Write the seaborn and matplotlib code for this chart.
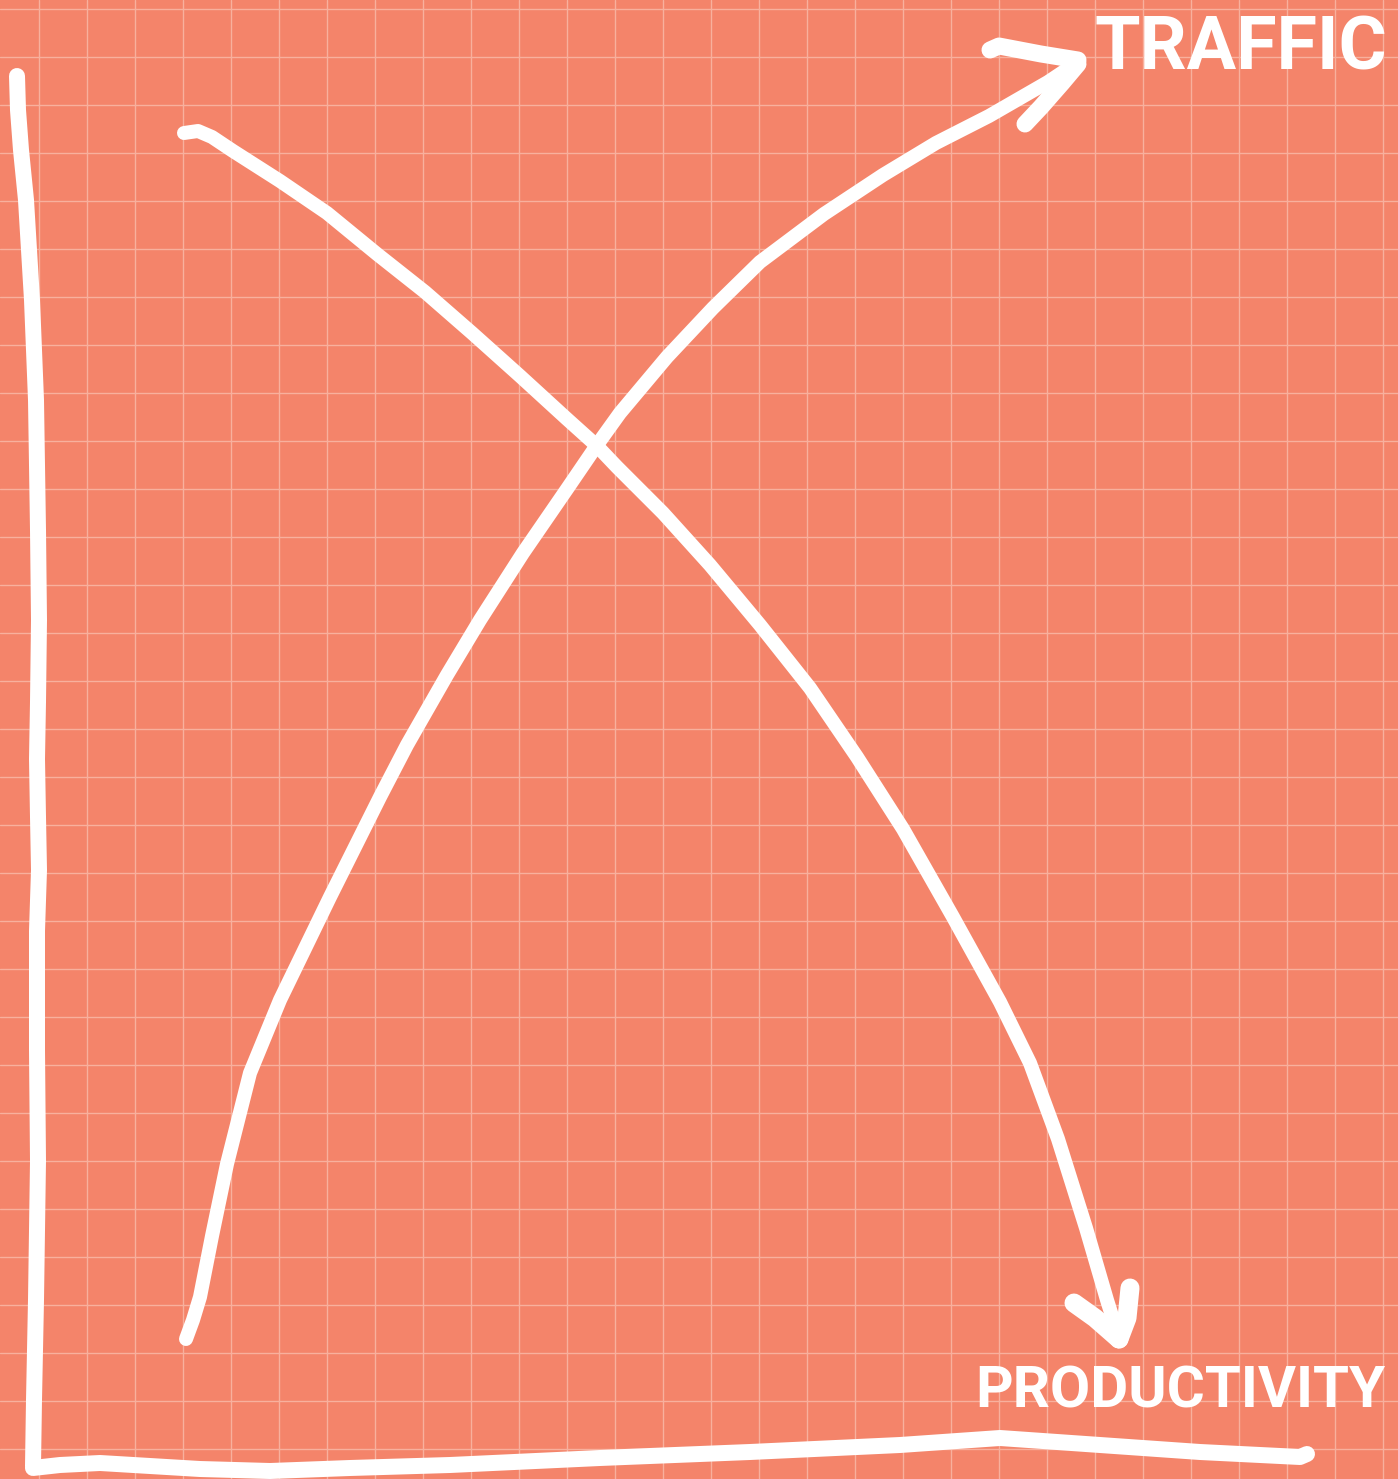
import numpy as np
import pandas as pd
import matplotlib
matplotlib.use("Agg")
import matplotlib.pyplot as plt
import seaborn as sns
from matplotlib import font_manager

# ---- data (pixel-like chart units, y grows downward) ----
traffic_x = [186, 193, 200, 212, 227, 250, 280, 330, 380, 407, 447, 480, 523, 567, 597, 620,
             667, 713, 760, 824, 883, 936, 989, 1048, 1078]
traffic_y = [1339, 1320, 1297, 1236, 1164, 1073, 1000, 897, 797, 745, 675, 620, 553, 489, 445,
             413, 357, 308, 262, 214, 175, 143, 116, 82, 62]
traffic_head_a_x = [1078, 1041, 999, 990]
traffic_head_a_y = [60, 54, 46, 50]
traffic_head_b_x = [1078, 1062, 1041, 1025]
traffic_head_b_y = [64, 83, 107, 124]

prod_x = [184, 198, 212, 233, 280, 327, 377, 425, 472, 520, 567, 597, 617, 663, 710, 760, 810,
          857, 903, 953, 1000, 1030, 1058, 1086, 1107, 1119]
prod_y = [133, 131, 137, 151, 181, 213, 254, 292, 333, 376, 419, 446, 467, 513, 565, 625, 688,
          757, 829, 917, 1002, 1063, 1139, 1228, 1300, 1338]
prod_head_a_x = [1074, 1095, 1119]
prod_head_a_y = [1303, 1318, 1339]
prod_head_b_x = [1130, 1127, 1119]
prod_head_b_y = [1288, 1318, 1339]

yaxis_x = [17, 18, 21, 26, 32, 36, 38, 39, 38, 37, 38, 39, 37, 37, 38, 36, 34, 33]
yaxis_y = [76, 110, 150, 200, 300, 400, 530, 620, 702, 759, 817, 870, 931, 1050, 1161, 1300, 1400, 1466]
xaxis_x = [33, 60, 100, 150, 200, 270, 350, 450, 600, 750, 900, 1000, 1100, 1200, 1300, 1307]
xaxis_y = [1468, 1465, 1463, 1466, 1469, 1471, 1468, 1465, 1458, 1452, 1445, 1438, 1445, 1452, 1457, 1454]

labels = ["TRAFFIC", "PRODUCTIVITY"]

# ---- style ----
BG = "#F4846A"
GRID = "#F8B09D"
sns.set_style("white", {"axes.facecolor": BG, "figure.facecolor": BG})

avail = {f.name for f in font_manager.fontManager.ttflist}
label_family = [f for f in ["Liberation Sans Narrow", "Roboto", "Lato", "DejaVu Sans"] if f in avail]
plt.rcParams["font.family"] = label_family + ["DejaVu Sans"]

W, H = 1398, 1479
fig = plt.figure(figsize=(W / 100, H / 100), dpi=100)
ax = fig.add_axes([0, 0, 1, 1])
ax.set_xlim(0, W)
ax.set_ylim(H, 0)
ax.set_facecolor(BG)

ax.set_xticks(np.arange(39.3, W, 48))
ax.set_yticks(np.arange(9.3, H, 48))
ax.grid(True, color=GRID, linewidth=1.0)
ax.tick_params(length=0, labelbottom=False, labelleft=False)
for s in ax.spines.values():
    s.set_visible(False)
ax.set_axisbelow(True)


def stroke(xs, ys, px):
    df = pd.DataFrame({"x": xs, "y": ys})
    sns.lineplot(data=df, x="x", y="y", sort=False, estimator=None, ax=ax, color="white",
                 linewidth=px * 0.72, solid_capstyle="round", solid_joinstyle="round")


stroke(yaxis_x, yaxis_y, 16)
stroke(xaxis_x, xaxis_y, 16)
stroke(traffic_x, traffic_y, 14)
stroke(traffic_head_a_x, traffic_head_a_y, 17)
stroke(traffic_head_b_x, traffic_head_b_y, 17)
stroke(prod_x, prod_y, 14)
stroke(prod_head_a_x, prod_head_a_y, 19)
stroke(prod_head_b_x, prod_head_b_y, 19)

ax.set_xlabel("")
ax.set_ylabel("")

ax.text(1095, 70, labels[0], color="white", fontsize=53, fontweight="bold",
        ha="left", va="baseline")
ax.text(975, 1408, labels[1], color="white", fontsize=42, fontweight="bold",
        ha="left", va="baseline")

fig.savefig("out.png", dpi=100, facecolor=BG)
